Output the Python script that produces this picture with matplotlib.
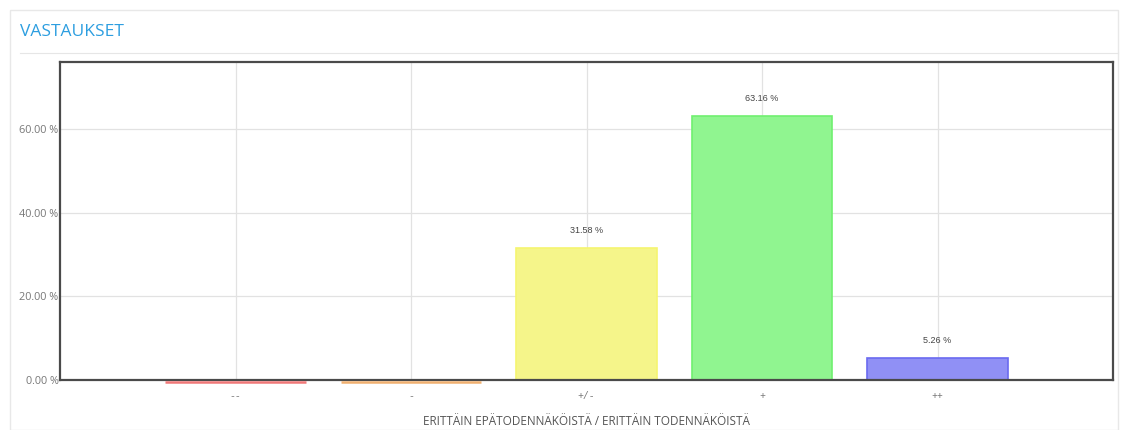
import matplotlib
matplotlib.use("Agg")
import matplotlib.pyplot as plt
from matplotlib.patches import Rectangle
from matplotlib.lines import Line2D

categories = ["--", "-", "+/-", "+", "++"]
values = [0.0, 0.0, 31.58, 63.16, 5.26]
y_ticks = [0, 20, 40, 60]
title = "VASTAUKSET"
x_label = "ERITTÄIN EPÄTODENNÄKÖISTÄ / ERITTÄIN TODENNÄKÖISTÄ"

fills = ["#f7a0a0", "#f7c890", "#f5f58a", "#90f590", "#9090f5"]
edges = ["#f07878", "#f0b070", "#f5f570", "#70f070", "#6a6af0"]

plt.rcParams['font.family'] = ['Open Sans', 'DejaVu Sans']

W, H = 1128, 430
fig = plt.figure(figsize=(W / 100, H / 100), dpi=100)

# card background
fig.patches.append(Rectangle((10 / W, 0), (1118 - 10) / W, (H - 10) / H,
                             transform=fig.transFigure, facecolor="white",
                             edgecolor="#e8e8e8", linewidth=1.0, zorder=-10))
fig.lines.append(Line2D([20 / W, 1118 / W], [1 - 53 / H, 1 - 53 / H],
                        transform=fig.transFigure, color="#e6e6e6", linewidth=0.8,
                        zorder=-5))
fig.text(20 / W, 1 - 32 / H, title, color="#2d9ee0", fontsize=12.5,
         va="center", ha="left")

left, right, top, bottom = 60, 1113, 62, 380
ax = fig.add_axes([left / W, 1 - bottom / H, (right - left) / W, (bottom - top) / H])
ax.set_zorder(5)

x = list(range(len(categories)))
ax.bar(x, values, width=0.8, color=fills, edgecolor=edges, linewidth=1.2, zorder=2)
# zero-value bars shown as thin line just at the baseline
for xi, v, e in zip(x, values, edges):
    if v == 0:
        ax.plot([xi - 0.4, xi + 0.4], [v - 0.5, v - 0.5], color=e, linewidth=1.8,
                zorder=10, clip_on=False, solid_capstyle="butt")

for xi, v in zip(x, values):
    if v > 0:
        ax.text(xi, v + 3.0, f"{v:.2f} %", ha="center", va="bottom",
                fontsize=6.5, color="#444444", family="Liberation Sans")

ax.set_xlim(-1, 5)
ax.set_ylim(0, 76)
ax.set_yticks(y_ticks)
ax.set_yticklabels([f"{t:.2f} %" for t in y_ticks], fontsize=7.8)
ax.set_xticks(x)
ax.set_xticklabels(categories, family="Liberation Mono", fontsize=7)
ax.tick_params(axis="both", length=0, colors="#777777")
ax.tick_params(axis="x", pad=8)
ax.tick_params(axis="y", pad=1)
ax.grid(True, color="#e2e2e2", linewidth=0.9, zorder=0)
ax.set_axisbelow(True)
for s in ax.spines.values():
    s.set_color("#4a4a4a")
    s.set_linewidth(1.6)

ax.set_xlabel(x_label, fontsize=8.5, color="#555555", labelpad=10)

fig.savefig("out.png", dpi=100)
